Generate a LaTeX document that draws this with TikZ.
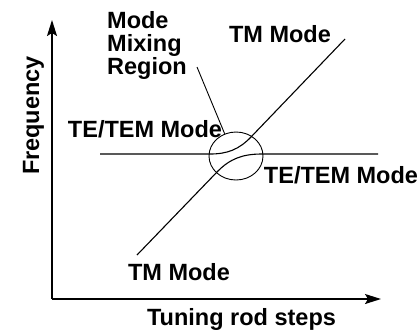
\documentclass[tikz,border=0pt]{standalone}
\usepackage{fontspec}
\setmainfont{Liberation Sans}
\usetikzlibrary{arrows.meta,shapes.geometric}
\begin{document}
\begin{tikzpicture}[x=1pt,y=-1pt,
  axis/.style={line width=1.4pt,-{Stealth[length=16pt,width=10pt,inset=3pt]}},
  mode/.style={line width=1.1pt},
  pointer/.style={line width=0.9pt},
  lbl/.style={font=\bfseries\fontsize{23.5}{23.3}\selectfont,inner sep=0pt}]
\useasboundingbox (0,0) rectangle (419,333);

% axes
\coordinate (origin) at (52,299);
\coordinate (ytip) at (52,20);
\coordinate (xtip) at (381,299);
\draw[axis] (origin) -- (ytip);
\draw[axis] (origin) -- (xtip);
\node[lbl,anchor=base,rotate=90] (ylab) at (39,115.5) {Frequency};
\node[lbl,anchor=base] (xlab) at (241.5,325) {Tuning rod steps};

% mode lines with the avoided crossing
\coordinate (tmlow) at (137,255);
\coordinate (tmhigh) at (345,39);
\coordinate (teleft) at (100,154);
\coordinate (teright) at (378,154);
\coordinate (tmin) at (217,172);
\coordinate (teout) at (262,154);
\coordinate (tein) at (210,154);
\coordinate (tmout) at (251,137);
\draw[mode] (tmlow) -- (tmin) to[out=46,in=180] (teout) -- (teright);
\draw[mode] (teleft) -- (tein) to[out=0,in=226] (tmout) -- (tmhigh);

% mixing region
\node[draw,ellipse,line width=0.9pt,minimum width=54pt,minimum height=48pt,inner sep=0pt] (region) at (236,156) {};
\coordinate (ptr) at (197,67);
\draw[pointer] (ptr) -- (region.117);

% labels
\node[lbl,anchor=north west,align=left] (mix) at (107,11) {Mode\\Mixing\\Region};
\node[lbl,anchor=base] (tmtop) at (280,42) {TM Mode};
\node[lbl,anchor=base] (tmbot) at (179,280) {TM Mode};
\node[lbl,anchor=base] (teleftlab) at (145,137) {TE/TEM Mode};
\node[lbl,anchor=base] (terightlab) at (341,183) {TE/TEM Mode};
\end{tikzpicture}
\end{document}
